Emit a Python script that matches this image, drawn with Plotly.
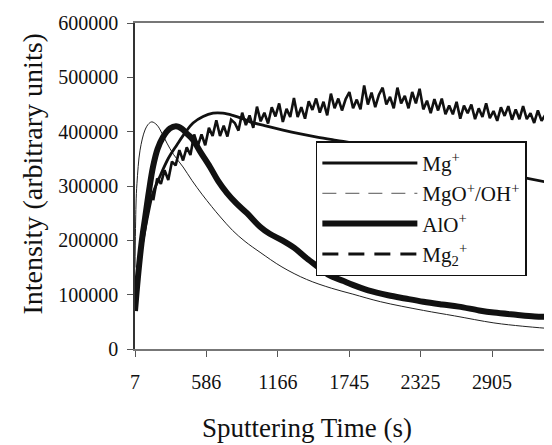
import plotly.graph_objects as go

FONT = "Liberation Serif"

# ---------------- data ----------------
x_ticks = [7, 586, 1166, 1745, 2325, 2905]
y_ticks = [0, 100000, 200000, 300000, 400000, 500000, 600000]

mg_t = [7, 40, 72, 110, 150, 210, 280, 348, 420, 478, 560, 640, 720, 800, 880, 941,
        1059, 1208, 1350, 1484, 1640, 1777, 2000, 2300, 2564, 2800, 3100, 3351]
mg_y = [85000, 160000, 200000, 245000, 285000, 318000, 352000, 376000, 400000, 416000,
        428000, 434000, 434000, 430000, 424000, 418000, 411000, 403000, 396000, 390000,
        384000, 379000, 370000, 356000, 343000, 332000, 318000, 307000]

mgo_t = [7, 15, 23, 48, 88, 120, 145, 186, 226, 266, 320, 397, 470, 550, 630, 700, 800,
         900, 1022, 1200, 1400, 1600, 1775, 2000, 2348, 2600, 2920, 3150, 3351]
mgo_y = [150000, 265000, 305000, 366000, 403000, 415000, 418000, 412000, 397000, 379000,
         358000, 335000, 310000, 285000, 262000, 243000, 218000, 198000, 178000, 151000,
         128000, 112000, 101000, 87000, 71000, 61000, 48000, 42000, 38000]

alo_t = [7, 30, 60, 88, 120, 153, 190, 234, 291, 340, 390, 430, 478, 540, 616, 680, 754,
         830, 916, 1022, 1100, 1202, 1300, 1400, 1500, 1575, 1700, 1775, 1900, 2061, 2200,
         2348, 2500, 2634, 2800, 2920, 3100, 3250, 3351]
alo_y = [70000, 130000, 195000, 240000, 290000, 335000, 368000, 390000, 406000, 410000,
         405000, 396000, 385000, 362000, 335000, 310000, 287000, 268000, 250000, 225000,
         212000, 200000, 186000, 167000, 150000, 137000, 125000, 118000, 108000, 99000,
         93000, 87000, 82000, 78000, 71000, 67000, 63000, 60000, 59000]

mg2_t = [7, 37, 67, 97, 127, 157, 187, 217, 247, 277, 307, 337, 367, 397, 427, 457, 487,
         517, 547, 577, 607, 637, 667, 697, 727, 757, 787, 817, 847, 877, 907, 937, 967,
         997, 1027, 1057, 1087, 1117, 1147, 1177, 1207, 1237, 1267, 1297, 1327, 1357, 1387,
         1417, 1447, 1477, 1507, 1537, 1567, 1597, 1627, 1657, 1687, 1717, 1747, 1777, 1807,
         1837, 1867, 1897, 1927, 1957, 1987, 2017, 2047, 2077, 2107, 2137, 2167, 2197, 2227,
         2257, 2287, 2317, 2347, 2377, 2407, 2437, 2467, 2497, 2527, 2557, 2587, 2617, 2647,
         2677, 2707, 2737, 2767, 2797, 2827, 2857, 2887, 2917, 2947, 2977, 3007, 3037, 3067,
         3097, 3127, 3157, 3187, 3217, 3247, 3277, 3307, 3337, 3351]
mg2_y = [100000, 157000, 211000, 235000, 277000, 276000, 314000, 304000, 329000, 311000,
         345000, 338000, 366000, 347000, 371000, 357000, 395000, 374000, 395000, 375000,
         407000, 392000, 421000, 392000, 411000, 391000, 422000, 416000, 402000, 435000,
         412000, 430000, 407000, 446000, 419000, 435000, 415000, 445000, 428000, 452000,
         418000, 442000, 427000, 462000, 427000, 445000, 424000, 456000, 440000, 461000,
         435000, 455000, 430000, 470000, 443000, 461000, 439000, 460000, 473000, 443000,
         459000, 441000, 485000, 450000, 472000, 445000, 468000, 481000, 450000, 464000,
         443000, 481000, 452000, 466000, 443000, 473000, 452000, 479000, 441000, 457000,
         434000, 460000, 439000, 461000, 432000, 448000, 432000, 455000, 424000, 448000,
         434000, 450000, 423000, 443000, 427000, 452000, 425000, 438000, 420000, 445000,
         429000, 447000, 422000, 441000, 423000, 447000, 423000, 434000, 416000, 439000,
         420000, 431000, 412000]

names = ["Mg<sup>+</sup>", "MgO<sup>+</sup>/OH<sup>+</sup>", "AlO<sup>+</sup>",
         "Mg<sub>2</sub><sup>+</sup>"]

# ---------------- figure ----------------
fig = go.Figure()

fig.add_trace(go.Scatter(x=mgo_t, y=mgo_y, mode="lines", line=dict(color="#222", width=1, shape="spline"),
                         showlegend=False, hoverinfo="skip"))
fig.add_trace(go.Scatter(x=mg2_t, y=mg2_y, mode="lines", line=dict(color="#111", width=2.6),
                         showlegend=False, hoverinfo="skip"))
fig.add_trace(go.Scatter(x=alo_t, y=alo_y, mode="lines", name=names[2], legendrank=3,
                         line=dict(color="#111", width=6, shape="spline")))
fig.add_trace(go.Scatter(x=mg_t, y=mg_y, mode="lines", name=names[0], legendrank=1,
                         line=dict(color="#111", width=2.8, shape="spline")))

# legend-only entries (dashed styles as in the key)
fig.add_trace(go.Scatter(x=[None], y=[None], mode="lines", name=names[1], legendrank=2,
                         line=dict(color="#555", width=1, dash="14px,9px")))
fig.add_trace(go.Scatter(x=[None], y=[None], mode="lines", name=names[3], legendrank=4,
                         line=dict(color="#111", width=3, dash="16px,10px")))

fig.update_layout(
    width=544, height=437,
    margin=dict(l=127, r=5, t=15, b=96),
    paper_bgcolor="white", plot_bgcolor="white",
    font=dict(family=FONT, color="#111", size=20),
    legend=dict(
        x=0.439, y=0.637, xanchor="left", yanchor="top",
        bgcolor="white", bordercolor="#111", borderwidth=1.5,
        font=dict(family=FONT, size=21, color="#111"),
        itemwidth=95, tracegroupgap=0,
        traceorder="normal",
    ),
    xaxis=dict(
        range=[7, 3351], tickmode="array", tickvals=x_ticks,
        ticktext=[str(v) for v in x_ticks],
        showgrid=False, zeroline=False,
        showline=True, linecolor="#777", linewidth=1.5, mirror=True,
        ticks="outside", ticklen=6, tickcolor="#555",
        tickfont=dict(family=FONT, size=20, color="#111"),
        ticklabelstandoff=8,
    ),
    yaxis=dict(
        range=[0, 600000], tickmode="array", tickvals=y_ticks,
        ticktext=[str(v) for v in y_ticks],
        showgrid=False, zeroline=False,
        showline=True, linecolor="#333", linewidth=1.5,
        ticks="outside", ticklen=6, tickcolor="#555",
        tickfont=dict(family=FONT, size=20, color="#111"),
        ticklabelstandoff=5,
    ),
    shapes=[dict(type="line", xref="paper", yref="paper", x0=1, x1=1, y0=0, y1=1,
                 line=dict(color="#888", width=1.5))],
    annotations=[
        dict(text="Sputtering Time (s)", xref="paper", yref="paper", x=0.417, y=0,
             yshift=-79, xanchor="center", yanchor="middle", showarrow=False,
             font=dict(family=FONT, size=27, color="#111")),
        dict(text="Intensity (arbitrary units)", xref="paper", yref="paper", x=0,
             xshift=-102, y=0.535, xanchor="center", yanchor="middle", textangle=-90,
             showarrow=False, font=dict(family=FONT, size=28, color="#111")),
    ],
)

fig.write_html("out.html")
